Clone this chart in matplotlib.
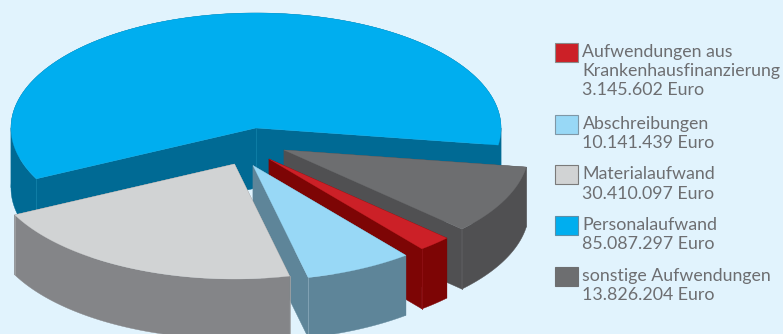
import numpy as np
import matplotlib
matplotlib.use('Agg')
import matplotlib.pyplot as plt
from matplotlib.patches import Polygon, Rectangle

categories = ['Aufwendungen aus\nKrankenhausfinanzierung', 'Abschreibungen', 'Materialaufwand',
              'Personalaufwand', 'sonstige Aufwendungen']
values = [3145602, 10141439, 30410097, 85087297, 13826204]

top_colors = ['#CC2027', '#98D8F6', '#D1D3D4', '#00AEEF', '#6D6E70']
side_colors = ['#7D0505', '#5E8599', '#848588', '#006A94', '#505052']
edge_colors = ['#8E1015', '#86A6B8', '#A0A1A3', '#1080A8', '#5A5A5C']
legend_edges = ['#8A8A8A', '#7F97A6', '#7A7A7A', '#5C8FA8', '#6D6E70']

# pixel layout, y grows downwards
apex = [(269, 159), (253, 165.5), (234.5, 164), (256, 128), (284, 150)]
draw_order = [3, 4, 0, 1, 2]
edge_at = [(-1,), (-1,), (0, -1), (0,), (-1,)]
rx, ry = 245, 115
depth = 60
start_angle = -43.45

fig = plt.figure(figsize=(7.83, 3.34), dpi=100, facecolor='#E1F3FD')
ax = fig.add_axes([0, 0, 1, 1])
ax.set_xlim(0, 783)
ax.set_ylim(334, 0)
ax.axis('off')

sweeps = 360.0 * np.array(values) / sum(values)
ends = start_angle - np.cumsum(sweeps)
starts = ends + sweeps

z = 1
for i in draw_order:
    cx, cy = apex[i]
    t = np.radians(np.linspace(starts[i], ends[i], 400))
    x = cx + rx * np.cos(t)
    y = cy - ry * np.sin(t)
    side = side_colors[i]

    # split the rim where x turns back, each part sweeps down as one clean polygon
    turns = np.where(np.diff(np.sign(np.diff(x))) != 0)[0] + 1
    bounds = [0] + list(turns) + [len(x) - 1]
    for a, b in zip(bounds[:-1], bounds[1:]):
        xs, ys = x[a:b + 1], y[a:b + 1]
        rim = np.column_stack([np.r_[xs, xs[::-1]], np.r_[ys, ys[::-1] + depth]])
        ax.add_patch(Polygon(rim, fc=side, ec=side, lw=0.3, zorder=z))
    for xe, ye in [(x[0], y[0]), (x[-1], y[-1])]:
        cut = [(cx, cy), (xe, ye), (xe, ye + depth), (cx, cy + depth)]
        ax.add_patch(Polygon(cut, fc=side, ec=side, lw=0.3, zorder=z))
    for k in edge_at[i]:
        ax.plot([x[k], x[k]], [y[k], y[k] + depth], color=edge_colors[i], lw=0.6, zorder=z + 0.5)
    if i == 3:
        ax.plot([cx, cx], [cy, cy + depth], color=edge_colors[i], lw=0.6, zorder=z + 0.5)

    top = np.column_stack([np.r_[cx, x], np.r_[cy, y]])
    ax.add_patch(Polygon(top, fc=top_colors[i], ec=top_colors[i], lw=0.2, zorder=z + 0.7))
    z += 1

# legend
swatch_y = [42.7, 115, 165.3, 215.7, 266.5]
for i, name in enumerate(categories):
    ax.add_patch(Rectangle((555, swatch_y[i]), 23, 19, fc=top_colors[i], ec=legend_edges[i], lw=0.8, zorder=20))
    label = name + '\n' + f'{values[i]:,}'.replace(',', '.') + ' Euro'
    ax.text(582.5, swatch_y[i] + 1, label, color='#6D6E71', fontsize=12.8, family='Lato',
            va='top', ha='left', linespacing=1.26, zorder=20)

fig.savefig('out.png', dpi=100, facecolor=fig.get_facecolor())
plt.close(fig)
